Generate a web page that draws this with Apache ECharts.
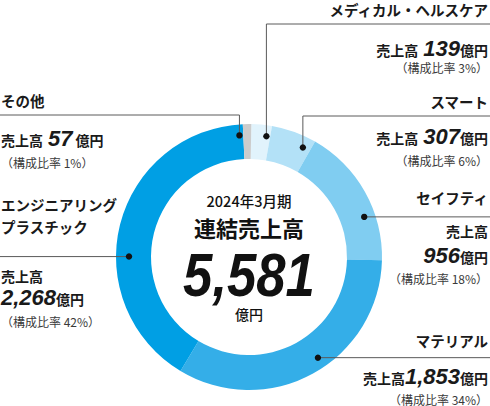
<!DOCTYPE html>
<html><head><meta charset="utf-8">
<script src="https://cdn.jsdelivr.net/npm/echarts@6/dist/echarts.min.js"></script>
<style>html,body{margin:0;padding:0;background:#fff}#c{width:490px;height:406px}</style>
</head><body><div id="c"></div>
<script>
// ---- data ----
const categories = ['メディカル・ヘルスケア', 'スマート', 'セイフティ', 'マテリアル', 'エンジニアリングプラスチック', 'その他'];
const sales = [139, 307, 956, 1853, 2268, 57];
const shares = [3, 6, 18, 34, 42, 1];
const periodLabel = '2024年3月期';
const totalTitle = '連結売上高';
const totalLabel = '5,581';
const unitLabel = '億円';
const salesLabel = '売上高';
const shareLabel = '構成比率';

// ---- style / layout ----
const colors = ['#e1f3fc', '#b3e1f7', '#80cdf1', '#34aee8', '#009fe4', '#cccccc'];
const CX = 249, CY = 257, R0 = 98, R1 = 133, START = 89;
const JP = '"Noto Sans CJK JP", sans-serif';
const NUM = '"Liberation Sans", Arial, sans-serif';
const layout = [
  {side: 'right', angle: 7.2, r: 122, elbowY: 24, nameY: 9, valY: 48, pctY: 67, gap: true},
  {side: 'right', angle: 25.2, r: 122, elbowY: 116, nameY: 101, valY: 136, pctY: 160, gap: true},
  {side: 'right', angle: 69.8, r: 122, nameY: 197, labelY: 231, valY: 255, pctY: 278, split: true},
  {side: 'right', angle: 144.6, r: 122, nameY: 340, valY: 376, pctY: 399, gap: false},
  {side: 'left', angle: 269.2, r: 120, nameY: 215, wrap: 8, labelY: 276, valY: 297, pctY: 321, split: true},
  {side: 'left', angle: 354.5, r: 122, elbowY: 115, nameY: 100, valY: 138, pctY: 162, gap: true, gapAfter: true}
];

const rich = {
  a: {font: 'bold 14px ' + JP, fill: '#1a1a1a', lineHeight: 24, verticalAlign: 'bottom', padding: [0, 0, 3, 0]},
  n: {font: 'italic bold 22px ' + NUM, fill: '#1a1a1a', lineHeight: 24},
  u: {font: 'bold 14px ' + JP, fill: '#1a1a1a', lineHeight: 24, verticalAlign: 'bottom', padding: [0, 0, 3, 0]},
  s: {font: 'bold 14px ' + JP, fill: '#1a1a1a', lineHeight: 24, width: 5},
  t: {font: 'bold 14px ' + JP, fill: '#1a1a1a', lineHeight: 24, width: 3}
};

function fmt(v) { return v.toLocaleString('en-US'); }

const els = [];
sales.forEach((v, i) => {
  const L = layout[i];
  const rad = (L.angle - 90 + (90 - START)) * Math.PI / 180;
  const dx = CX + L.r * Math.cos(rad), dy = CY + L.r * Math.sin(rad);
  const right = L.side === 'right';
  const edge = right ? 490 : 0;
  const tx = right ? 488 : 1;
  const align = right ? 'right' : 'left';
  let pts;
  if (L.elbowY !== undefined) pts = [[dx, dy], [dx, L.elbowY], [edge, L.elbowY]];
  else pts = [[dx, dy], [edge, dy]];
  els.push({type: 'polyline', shape: {points: pts}, style: {stroke: '#5a5a5a', lineWidth: 1, fill: null}, z: 10});
  els.push({type: 'circle', shape: {cx: dx, cy: dy, r: 3.2}, style: {fill: '#111'}, z: 11});

  let name = categories[i];
  if (L.wrap) name = name.slice(0, L.wrap) + '\n' + name.slice(L.wrap);
  els.push({type: 'text', x: tx, y: L.nameY, z: 12, style: {
    text: name, font: 'bold 14.5px ' + JP, fill: '#1a1a1a', lineHeight: 22,
    align: align, textAlign: align, verticalAlign: 'middle', textVerticalAlign: 'middle'}});

  let valText;
  if (L.split) {
    els.push({type: 'text', x: tx, y: L.labelY, z: 12, style: {
      text: salesLabel, font: 'bold 14px ' + JP, fill: '#1a1a1a',
      align: align, textAlign: align, verticalAlign: 'middle', textVerticalAlign: 'middle'}});
    valText = '{n|' + fmt(v) + '}{u|' + unitLabel + '}';
  } else {
    valText = '{a|' + salesLabel + '}' + (L.gap ? '{s|}' : '') + '{n|' + fmt(v) + '}' + (L.gapAfter ? '{t|}' : '') + '{u|' + unitLabel + '}';
  }
  els.push({type: 'text', x: tx, y: L.valY, z: 12, style: {
    text: valText, rich: rich,
    align: align, textAlign: align, verticalAlign: 'middle', textVerticalAlign: 'middle'}});

  els.push({type: 'text', x: tx, y: L.pctY, z: 12, style: {
    text: '（' + shareLabel + ' ' + shares[i] + '%）', font: '12px ' + JP, fill: '#3a3a3a',
    align: align, textAlign: align, verticalAlign: 'middle', textVerticalAlign: 'middle'}});
});

// center texts
const center = [
  {t: periodLabel, y: 200.5, font: '500 14.5px ' + JP, sx: 1},
  {t: totalTitle, y: 227, font: 'bold 22px ' + JP, sx: 1},
  {t: totalLabel, y: 274, font: 'italic bold 62px ' + NUM, sx: 0.85},
  {t: unitLabel, y: 314, font: '500 14px ' + JP, sx: 1}
];
center.forEach(c => els.push({type: 'text', x: CX, y: c.y, scaleX: c.sx, z: 12, style: {
  text: c.t, font: c.font, fill: '#111', align: 'center', textAlign: 'center',
  verticalAlign: 'middle', textVerticalAlign: 'middle'}}));

const chart = echarts.init(document.getElementById('c'), null, {renderer: 'svg'});
chart.setOption({
  animation: false,
  series: [{
    type: 'pie',
    center: [CX, CY],
    radius: [R0, R1],
    startAngle: START,
    clockwise: true,
    silent: true,
    label: {show: false},
    labelLine: {show: false},
    itemStyle: {borderWidth: 0},
    data: categories.map((c, i) => ({name: c, value: sales[i], itemStyle: {color: colors[i]}}))
  }],
  graphic: {elements: els}
});
</script></body></html>
